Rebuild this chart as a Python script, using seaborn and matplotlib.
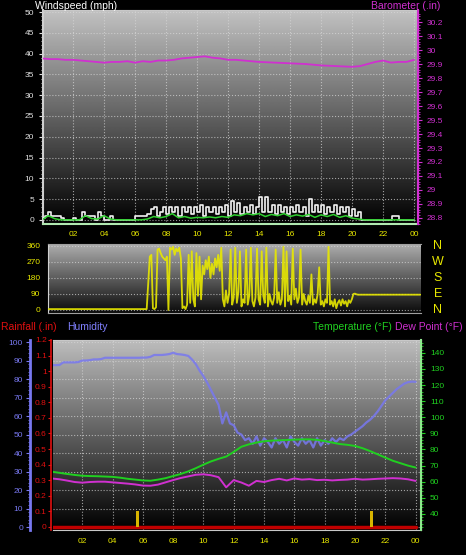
import matplotlib
matplotlib.use("Agg")
import matplotlib.pyplot as plt
import matplotlib.transforms as mtransforms
import numpy as np
import seaborn as sns

sns.set_style("dark")
plt.rcParams['font.family'] = ['Liberation Sans', 'DejaVu Sans']

# ---- data ----
# wind speed (mph), one value per 0.2 h from 00:00
wind_speed = [0.5, 1, 2, 1, 1, 1, 0.5, 0, 0, 0,
              0.5, 0, 0, 2, 1, 1, 1, 0, 2, 1,
              0, 0, 1, 0, 0, 0, 0, 0, 0, 0,
              1, 1, 1, 1, 1.5, 2.5, 3, 1, 2, 3,
              1.5, 3, 2, 3, 1, 3, 2, 3, 1.5, 3,
              2, 3.5, 1, 3, 2, 3, 1.5, 3, 2, 3.5,
              1, 4.5, 2, 4, 1.5, 3, 2, 3.5, 1.5, 3,
              5.5, 2, 5.5, 2, 3.5, 1.5, 3.5, 2, 3, 1.5,
              3, 2, 3.5, 2, 3, 1, 5, 2, 3.5, 2,
              3.5, 1.5, 3, 2, 3.5, 1.5, 3, 2, 3, 1,
              2.5, 1, 2, 0, 0, 0, 0, 0, 0, 0,
              0, 0, 0, 1, 1, 0, 0, 0, 0, 0, 0]
# average wind (mph), one value per 0.4 h
wind_avg = [0, 1, 0.3, 0, 0, 0, 0, 1, 0.3, 0.2,
            1, 0.2, 0, 0, 0, 0, 0, 0.2, 0.8, 0.5,
            0.8, 1.5, 0.5, 0.8, 0.4, 0.6, 0.5, 0.7, 0.5, 0.8,
            0.6, 1.2, 1, 1.5, 1.2, 1.5, 0.8, 1.3, 1, 1.5,
            0.8, 1.2, 0.9, 1.3, 0.6, 1.2, 0.8, 1.3, 0.6, 1,
            0.4, 0.2, 0, 0, 0, 0, 0, 0, 0, 0, 0]
# barometer (in)
baro_hours = [0, 0.5, 1, 1.5, 2, 2.5, 3, 3.5, 4, 4.5, 5, 5.5, 6, 6.5, 7, 7.5, 8,
              8.5, 9, 9.5, 10, 10.5, 11, 11.5, 12, 12.5, 13, 14, 15, 16, 17, 18,
              19, 20, 20.5, 21, 21.5, 22, 22.5, 23, 23.5, 24]
baro = [29.94, 29.935, 29.935, 29.93, 29.93, 29.925, 29.92, 29.915, 29.91, 29.915,
        29.915, 29.92, 29.91, 29.92, 29.915, 29.925, 29.925, 29.93, 29.94, 29.945,
        29.95, 29.955, 29.945, 29.94, 29.93, 29.93, 29.925, 29.915, 29.91, 29.905,
        29.9, 29.89, 29.885, 29.88, 29.885, 29.9, 29.915, 29.925, 29.91, 29.915,
        29.915, 29.93]

# wind direction (deg), one value per 0.1 h from 00:30
dir_calm = [5] * 64
dir_active = [150, 300, 310, 10, 5, 15, 340, 345, 320, 300,
              290, 280, 300, 0, 350, 340, 355, 310, 345, 330,
              350, 290, 10, 20, 5, 30, 310, 40, 330, 60,
              20, 320, 80, 300, 60, 250, 200, 280, 230, 300,
              180, 260, 200, 290, 240, 310, 220, 350, 60, 20,
              110, 40, 90, 340, 30, 70, 350, 40, 100, 330,
              20, 60, 40, 340, 30, 80, 350, 50, 20, 70,
              345, 60, 30, 330, 80, 40, 350, 20, 90, 50,
              30, 70, 340, 40, 100, 30, 60, 355, 20, 330,
              50, 80, 30, 345, 60, 120, 40, 70, 340, 30,
              90, 50, 30, 80, 40, 200, 30, 60, 40, 90,
              240, 30, 50, 20, 60, 40, 355, 30, 50, 20,
              60, 10, 40, 55, 25, 60, 35, 50, 20, 55,
              40, 60]
dir_late = [90, 92, 88] + [86] * 41
dir_labels = ['N', 'W', 'S', 'E', 'N']
dir_ticks = [360, 270, 180, 90, 0]

# humidity (%), one value per 0.25 h
humidity = [87.5, 87.5, 87.6, 89, 89, 89, 89, 89.2, 90, 90,
            90.2, 90.6, 90.6, 90.8, 91.5, 91.5, 91.5, 91.5, 91.5, 91.5,
            91.5, 91.5, 91.5, 91.5, 91.6, 91.6, 92, 93, 93, 93,
            93.2, 93.5, 94.2, 93.5, 93.3, 93, 92.5, 90.5, 88, 84.5,
            81.5, 78, 74, 70, 66, 56, 62, 56, 55, 51,
            50, 47, 48, 45, 49, 44, 48, 46, 43, 48,
            45, 47, 43, 49, 46, 44, 48, 45, 47, 43,
            48, 44, 47, 45, 48, 46, 48, 47, 49, 50,
            51.5, 53, 54.5, 56.5, 58, 60, 62.5, 65.5, 68.5, 70.5,
            72.5, 74.5, 76, 77.5, 78.3, 78.6, 78.5]
# temperature / dew point (F), one value per 0.5 h
temperature = [66.2, 65.5, 64.8, 64.2, 63.7, 63.5, 63.4, 63.2, 63, 62.5,
               61.8, 61.3, 60.8, 60.6, 61.3, 62.2, 63.5, 64.8, 66.4, 68.4,
               70.6, 72.6, 74.2, 75.6, 78.5, 81.7, 83.2, 84.3, 85.1, 85.5,
               85.7, 85.9, 86.1, 86.3, 86.3, 86, 85.2, 84.3, 83.4, 82.9,
               82.2, 80.8, 79, 77, 75, 73, 71.5, 70, 68.8]
dew_point = [62, 61.5, 60.7, 59.8, 59.4, 59.8, 60, 60, 59.6, 59.2,
             58.8, 58.3, 57.6, 57.5, 58.2, 59.6, 61, 62.3, 63.3, 64.3,
             64.6, 64, 62.8, 56.5, 61, 59.5, 57.5, 60.5, 59.8, 61,
             61.8, 60.8, 62, 61.3, 61.6, 61, 61.2, 60.8, 61.1, 61.3,
             61.8, 61.3, 61.5, 61.8, 62, 62.2, 62, 61.5, 60.5]
# rainfall (in) and rain spikes
rain_hours = [0, 24]
rain_total = [0, 0]
rate_hours = [5.65, 21.1]
rate_vals = [0.1, 0.1]

hour_ticks = [2, 4, 6, 8, 10, 12, 14, 16, 18, 20, 22, 24]
hour_labels = ['02', '04', '06', '08', '10', '12', '14', '16', '18', '20', '22', '00']

YEL = '#e8e800'
MAG = '#d030d0'
GRN = '#20d020'
RED = '#e01010'
BLU = '#7878f0'
PX = 72 / 100  # points per pixel

fig = plt.figure(figsize=(4.66, 5.55), dpi=100, facecolor='black')


def shade(ax, top, bottom=0.0):
    g = np.linspace(bottom, top, 256).reshape(-1, 1)
    ax.imshow(g, extent=[0, 1, 0, 1], transform=ax.transAxes, cmap='gray',
              vmin=0, vmax=1, aspect='auto', origin='lower', zorder=0)
    ax.set_facecolor('black')


def grid(ax, both=True):
    ax.grid(False)
    ax.yaxis.grid(True, color='#d8d8d8', linestyle=':', linewidth=0.8, alpha=0.7)
    if both:
        ax.xaxis.grid(True, color='#d8d8d8', linestyle=':', linewidth=0.8, alpha=0.7)


# ---------- panel 1: wind speed and barometer ----------
ax1 = fig.add_axes([43 / 466, 1 - 224 / 555, 375 / 466, 214 / 555])
shade(ax1, 0.76)
sns.lineplot(x=np.arange(len(wind_speed)) * 0.2, y=wind_speed, ax=ax1, color='#f2f2f2',
             linewidth=1.2, drawstyle='steps-post', legend=False, zorder=3)
sns.lineplot(x=np.arange(len(wind_avg)) * 0.4, y=wind_avg, ax=ax1, color='#30d030',
             linewidth=1.1, legend=False, zorder=4)
ax1.set_xlim(0.06, 24.25)
ax1.set_ylim(-1, 50.5)
ax1.set_yticks(range(0, 51, 5))
ax1.set_yticks(range(0, 51), minor=True)
ax1.set_xticks(hour_ticks)
ax1.set_xticklabels(hour_labels)
ax1.set_xticks(range(1, 25), minor=True)
grid(ax1)
ax1.tick_params(axis='y', which='both', colors='#e0e0e0', labelsize=6, direction='out')
ax1.tick_params(axis='y', which='major', length=3)
ax1.tick_params(axis='y', which='minor', length=1.5)
ax1.tick_params(axis='x', which='both', colors='#c0c0c0', labelcolor=YEL, labelsize=6,
                length=2, pad=3)
ax1.spines['left'].set_color('#d0d0d0')
ax1.spines['left'].set_linewidth(1.5)
ax1.spines['bottom'].set_color('#b0e8b0')
ax1.spines['bottom'].set_linewidth(1.5)
ax1.spines['top'].set_color('#c8c8c8')

ax1b = ax1.twinx()
sns.lineplot(x=baro_hours, y=baro, ax=ax1b, color=MAG, linewidth=1.3, legend=False)
ax1b.set_ylim(28.757, 30.286)
bt = np.round(np.arange(28.8, 30.21, 0.1), 1)
ax1b.set_yticks(bt)
ax1b.set_yticklabels([f"{v:g}" for v in bt])
ax1b.set_yticks(np.arange(28.76, 30.28, 0.02), minor=True)
ax1b.tick_params(axis='y', which='both', colors=MAG, labelsize=6)
ax1b.tick_params(axis='y', which='major', length=3)
ax1b.tick_params(axis='y', which='minor', length=1.2)
ax1b.spines['right'].set_color(MAG)
ax1b.spines['right'].set_linewidth(1.5)
for s in ['left', 'top', 'bottom']:
    ax1b.spines[s].set_visible(False)
ax1b.grid(False)

fig.text(35 / 466, 1 - 6 / 555, 'Windspeed (mph)', color='white', fontsize=7.5,
         ha='left', va='center')
fig.text(440 / 466, 1 - 6 / 555, 'Barometer (.in)', color=MAG, fontsize=7.5,
         ha='right', va='center')

# ---------- panel 2: wind direction ----------
ax2 = fig.add_axes([48 / 466, 1 - 313 / 555, 373 / 466, 69 / 555])
shade(ax2, 0.68, 0.04)
dirs = dir_calm + dir_active + dir_late
sns.lineplot(x=0.5 + np.arange(len(dirs)) * 0.1, y=dirs, ax=ax2, color=YEL,
             linewidth=1.3, alpha=0.9, legend=False, zorder=3)
ax2.set_xlim(0.45, 24.45)
ax2.set_ylim(-17, 371)
ax2.set_yticks([0, 90, 180, 270, 360])
ax2.set_xticks([])
grid(ax2, both=False)
ax2.tick_params(axis='y', colors='#d0d0d0', labelcolor=YEL, labelsize=6, length=2)
ax2.spines['left'].set_color('#d0d0d0')
ax2.spines['bottom'].set_color('#a0a0a0')
ax2.spines['top'].set_color('#a0a0a0')
ax2.spines['right'].set_visible(False)
tr = mtransforms.blended_transform_factory(ax2.transAxes, ax2.transData)
for lab, v in zip(dir_labels, dir_ticks):
    ax2.text((438 - 48) / 373, v, lab, transform=tr, color=YEL,
             fontsize=9, ha='center', va='center')

# ---------- panel 3: humidity, rain, temperature ----------
ax3 = fig.add_axes([53 / 466, 1 - 530 / 555, 368 / 466, 190 / 555])
shade(ax3, 0.74)
sns.lineplot(x=np.arange(len(humidity)) * 0.25, y=humidity, ax=ax3, color=BLU,
             linewidth=1.6, alpha=0.85, legend=False, zorder=3)
ax3.set_xlim(0.07, 24.36)
ax3.set_ylim(-1.6, 101.1)
ax3.set_yticks(range(0, 101, 10))
ax3.set_yticks(range(0, 101, 2), minor=True)
ax3.set_xticks(hour_ticks)
ax3.set_xticklabels(hour_labels)
ax3.set_xticks(range(1, 25), minor=True)
grid(ax3)
ax3.spines['left'].set_position(('outward', 23 * PX))
ax3.spines['left'].set_color(BLU)
ax3.spines['left'].set_linewidth(2)
ax3.spines['bottom'].set_color('#c8c8c8')
ax3.spines['top'].set_color('#c8c8c8')
ax3.tick_params(axis='y', which='both', colors=BLU, labelsize=6, pad=2)
ax3.tick_params(axis='y', which='major', length=3)
ax3.tick_params(axis='y', which='minor', length=1.5)
ax3.tick_params(axis='x', which='both', colors='#c0c0c0', labelcolor=YEL, labelsize=6,
                length=2, pad=4)

ax3r = ax3.twinx()
ax3r.yaxis.tick_left()
ax3r.yaxis.set_label_position('left')
sns.lineplot(x=rain_hours, y=rain_total, ax=ax3r, color='#c00000', linewidth=2.5,
             legend=False)
ax3r.bar(rate_hours, rate_vals, width=0.16, color='#d8b400', edgecolor='none',
         linewidth=0, zorder=2)
ax3r.set_ylim(-0.02, 1.2)
rt = np.round(np.arange(0, 1.21, 0.1), 1)
ax3r.set_yticks(rt)
ax3r.set_yticklabels([f"{v:g}" for v in rt])
ax3r.tick_params(axis='y', colors=RED, labelsize=6, length=2, pad=1)
ax3r.spines['left'].set_visible(True)
ax3r.spines['left'].set_position(('outward', 2 * PX))
ax3r.spines['left'].set_color(RED)
ax3r.spines['left'].set_linewidth(1.2)
for s in ['right', 'top', 'bottom']:
    ax3r.spines[s].set_visible(False)
ax3r.grid(False)

ax3t = ax3.twinx()
sns.lineplot(x=np.arange(len(temperature)) * 0.5, y=temperature, ax=ax3t, color=GRN,
             linewidth=1.4, legend=False)
sns.lineplot(x=np.arange(len(dew_point)) * 0.5, y=dew_point, ax=ax3t, color=MAG,
             linewidth=1.4, legend=False)
ax3t.set_ylim(30, 148)
ax3t.set_yticks(range(40, 141, 10))
ax3t.set_yticks(range(32, 148, 2), minor=True)
ax3t.tick_params(axis='y', which='both', colors=GRN, labelsize=6)
ax3t.tick_params(axis='y', which='major', length=3)
ax3t.tick_params(axis='y', which='minor', length=1.2)
ax3t.spines['right'].set_color('#90e890')
ax3t.spines['right'].set_linewidth(1.5)
for s in ['left', 'top', 'bottom']:
    ax3t.spines[s].set_visible(False)
ax3t.grid(False)

fig.text(1 / 466, 1 - 327 / 555, 'Rainfall (.in)', color=RED, fontsize=7.5, ha='left', va='center')
fig.text(67 / 466, 1 - 327 / 555, 'Humidity', color='#8080ff', fontsize=7.5, ha='left', va='center')
fig.text(392 / 466, 1 - 327 / 555, 'Temperature (°F)', color=GRN, fontsize=7.5,
         ha='right', va='center')
fig.text(463 / 466, 1 - 327 / 555, 'Dew Point (°F)', color=MAG, fontsize=7.5,
         ha='right', va='center')

fig.savefig('out.png', dpi=100, facecolor='black')
